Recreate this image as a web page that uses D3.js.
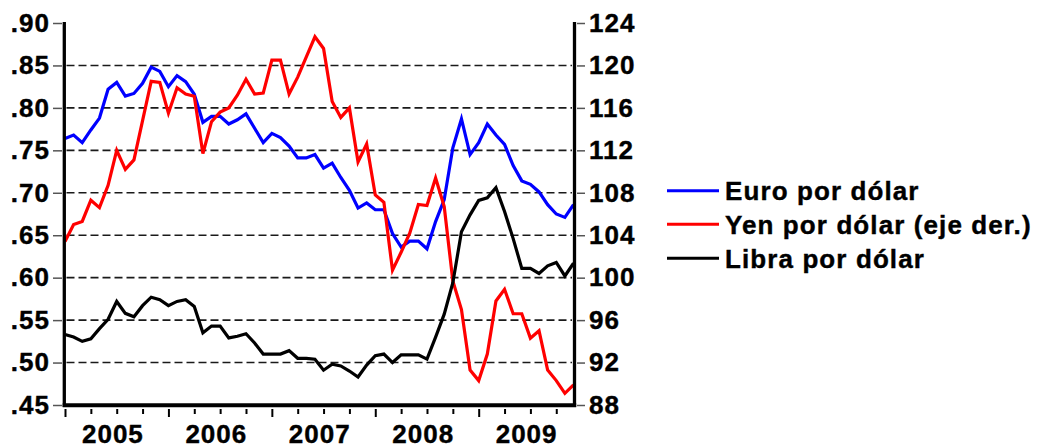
<!DOCTYPE html>
<html>
<head>
<meta charset="utf-8">
<script src="https://cdn.jsdelivr.net/npm/d3@7"></script>
<style>
  html, body { margin: 0; padding: 0; background: #fff; }
  svg { display: block; }
  text { font-family: "Liberation Sans", Arial, sans-serif; font-weight: bold; fill: #000; }
</style>
</head>
<body>
<div id="chart"></div>
<script>
// Monthly series, Jan 2005 .. Dec 2009 (60 points)
const years = [2005, 2006, 2007, 2008, 2009];

const euro = [
  .764, .768, .759, .774, .788, .822, .830, .814, .817, .829, .848, .843,
  .825, .838, .831, .816, .783, .790, .790, .781, .786, .793, .776, .759,
  .770, .765, .755, .741, .741, .745, .729, .735, .718, .703, .682, .688,
  .680, .680, .652, .636, .643, .643, .634, .666, .692, .753, .787, .745,
  .759, .781, .768, .757, .732, .714, .710, .701, .686, .675, .671, .686
];

const yen = [
  103.4, 105.0, 105.3, 107.3, 106.6, 108.7, 112.0, 110.2, 111.1, 114.8, 118.5, 118.4,
  115.5, 117.9, 117.3, 117.1, 111.7, 114.7, 115.6, 116.0, 117.2, 118.7, 117.3, 117.4,
  120.5, 120.5, 117.3, 118.9, 120.8, 122.7, 121.6, 116.6, 115.1, 116.0, 110.9, 112.6,
  107.8, 107.1, 100.7, 102.4, 104.2, 106.9, 106.8, 109.4, 106.7, 99.7, 97.0, 91.3,
  90.3, 92.8, 97.8, 98.9, 96.6, 96.6, 94.3, 95.0, 91.3, 90.3, 89.1, 89.9
];

const libra = [
  .533, .530, .525, .528, .540, .551, .572, .558, .554, .567, .577, .574,
  .567, .572, .574, .566, .535, .543, .543, .529, .531, .534, .523, .510,
  .510, .510, .514, .505, .505, .504, .491, .498, .496, .490, .483, .497,
  .508, .510, .500, .509, .509, .509, .504, .530, .557, .594, .654, .674,
  .691, .694, .706, .678, .646, .611, .611, .605, .614, .618, .602, .617
];

const leftTicks = [.45, .50, .55, .60, .65, .70, .75, .80, .85, .90];
const rightTicks = [88, 92, 96, 100, 104, 108, 112, 116, 120, 124];
const seriesNames = ['Euro por dólar', 'Yen por dólar (eje der.)', 'Libra por dólar'];
const seriesColors = ['#0000ff', '#ff0000', '#000000'];

const W = 1041, H = 448;
const plot = { left: 64.5, right: 574, top: 23, bottom: 405 };

const svg = d3.select('#chart').append('svg')
  .attr('width', W).attr('height', H);

// scales
const x = d3.scaleLinear().domain([0, euro.length - 1]).range([plot.left + 0.5, 573.5]);
const yL = d3.scaleLinear().domain([.45, .90]).range([plot.bottom, plot.top]);
const yR = d3.scaleLinear().domain([88, 124]).range([plot.bottom, plot.top]);

// dashed gridlines (inner ticks only)
svg.append('g')
  .selectAll('line')
  .data(leftTicks.slice(1, -1))
  .join('line')
  .attr('x1', plot.left + 2).attr('x2', plot.right - 2)
  .attr('y1', d => yL(d)).attr('y2', d => yL(d))
  .attr('stroke', '#1a1a1a')
  .attr('stroke-width', 1.6)
  .attr('stroke-dasharray', '8,4');

// series lines
const series = [
  { values: euro, scale: yL },
  { values: yen, scale: yR },
  { values: libra, scale: yL }
];
series.forEach((s, k) => {
  const line = d3.line().x((d, i) => x(i)).y(d => s.scale(d));
  svg.append('path')
    .datum(s.values)
    .attr('fill', 'none')
    .attr('stroke', seriesColors[k])
    .attr('stroke-width', 3.2)
    .attr('stroke-linejoin', 'miter')
    .attr('d', line);
});

// frame: left, right, bottom
svg.append('line').attr('x1', 64.3).attr('x2', 64.3).attr('y1', 22).attr('y2', 407)
  .attr('stroke', '#000').attr('stroke-width', 3.3);
svg.append('line').attr('x1', 574.5).attr('x2', 574.5).attr('y1', 22).attr('y2', 407)
  .attr('stroke', '#000').attr('stroke-width', 3.3);
svg.append('line').attr('x1', 62.7).attr('x2', 576.2).attr('y1', 405.2).attr('y2', 405.2)
  .attr('stroke', '#000').attr('stroke-width', 4);

function styleAxis(g, size) {
  g.select('.domain').remove();
  g.selectAll('text').style('font-size', size + 'px').style('letter-spacing', '1px')
    .style('stroke', '#000').style('stroke-width', 0.4);
}

// left axis
const fmtLeft = d => d3.format('.2f')(d).replace(/^0/, '');
svg.append('g')
  .attr('transform', 'translate(62,0)')
  .call(d3.axisLeft(yL).tickValues(leftTicks).tickFormat(fmtLeft).tickSize(9).tickPadding(3))
  .call(g => styleAxis(g, 26))
  .call(g => g.selectAll('line').attr('stroke', '#555').attr('stroke-width', 1.5));

// right axis
svg.append('g')
  .attr('transform', 'translate(577,0)')
  .call(d3.axisRight(yR).tickValues(rightTicks).tickFormat(d3.format('d')).tickSize(8).tickPadding(4))
  .call(g => styleAxis(g, 26))
  .call(g => g.selectAll('line').attr('stroke', '#555').attr('stroke-width', 1.5));

// bottom axis: quarterly ticks, longer at each January
const quarterTicks = d3.range(0, euro.length, 3);
const yearTicks = years.map((y, k) => k * 12);
svg.append('g')
  .attr('transform', 'translate(0,409)')
  .call(d3.axisBottom(x).tickValues(quarterTicks.filter(t => t % 12 !== 0)).tickFormat('').tickSize(5))
  .call(g => styleAxis(g, 26))
  .call(g => g.selectAll('line').attr('stroke', '#000').attr('stroke-width', 2));
svg.append('g')
  .attr('transform', 'translate(0,409)')
  .call(d3.axisBottom(x).tickValues(yearTicks).tickFormat('').tickSize(8))
  .call(g => styleAxis(g, 26))
  .call(g => g.selectAll('line').attr('stroke', '#000').attr('stroke-width', 2));

// year labels centred in each year
svg.append('g')
  .attr('transform', 'translate(0,409)')
  .call(d3.axisBottom(x).tickValues(yearTicks.map(t => t + 5.5))
    .tickFormat((d, i) => years[i]).tickSize(0).tickPadding(16))
  .call(g => styleAxis(g, 26));

// legend
const legend = svg.append('g').attr('transform', 'translate(667,0)');
const legendY = [190.7, 224.3, 258.3];
seriesNames.forEach((name, k) => {
  legend.append('line')
    .attr('x1', 0).attr('x2', 52)
    .attr('y1', legendY[k]).attr('y2', legendY[k])
    .attr('stroke', seriesColors[k]).attr('stroke-width', 3);
  legend.append('text')
    .attr('x', 58).attr('y', legendY[k] + 9.5)
    .style('font-size', '26px')
    .style('letter-spacing', '1.1px')
    .style('stroke', '#000').style('stroke-width', 0.4)
    .text(name);
});
</script>
</body>
</html>
